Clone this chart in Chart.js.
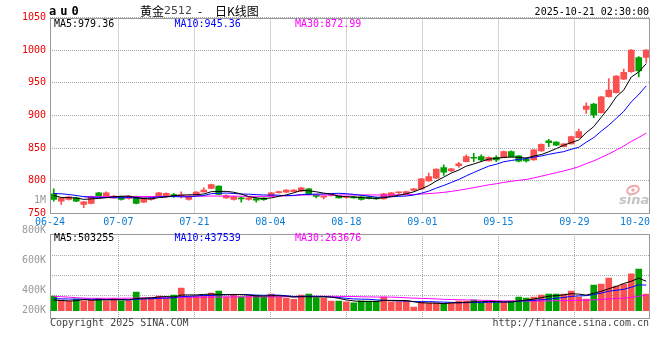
<!DOCTYPE html>
<html>
<head>
<meta charset="utf-8">
<script src="https://cdn.jsdelivr.net/npm/chart.js@4.4.0/dist/chart.umd.min.js"></script>
<style>
html,body{margin:0;padding:0;background:#fff;}
#wrap{position:relative;width:660px;height:360px;}
#wrap canvas{position:absolute;left:0;top:0;}
</style>
</head>
<body>
<div id="wrap">
  <canvas id="kline" width="660" height="360"></canvas>
  <canvas id="vol" width="660" height="360"></canvas>
</div>
<script>
// 黄金2512 日K, 06-24 .. 10-21
const dates = ['06-24','06-25','06-26','06-27','06-30','07-01','07-02','07-03','07-04','07-07',
  '07-08','07-09','07-10','07-11','07-14','07-15','07-16','07-17','07-18','07-21',
  '07-22','07-23','07-24','07-25','07-28','07-29','07-30','07-31','08-01','08-04',
  '08-05','08-06','08-07','08-08','08-11','08-12','08-13','08-14','08-15','08-18',
  '08-19','08-20','08-21','08-22','08-25','08-26','08-27','08-28','08-29','09-01',
  '09-02','09-03','09-04','09-05','09-08','09-09','09-10','09-11','09-12','09-15',
  '09-16','09-17','09-18','09-19','09-22','09-23','09-24','09-25','09-26','09-29',
  '09-30','10-09','10-10','10-13','10-14','10-15','10-16','10-17','10-20','10-21'];

const openP = [780.2,769,771.5,774,763.9,765.4,781.7,776.6,774,775.6,
  773,775.6,767.4,771.5,776.6,775.6,779.1,777,771.5,778.1,
  783.2,788.3,791.9,774,771.5,774,771.5,773,773.5,776.6,
  781.7,782.7,783.5,784.2,787.8,778.1,775,777.5,776.6,774.5,
  775.6,775.6,775.6,774,772.5,776.6,781.7,780.2,785.2,787.8,
  800,804.1,820.4,815.3,823.4,829.5,836.1,837.1,830.5,836.1,
  835.6,844.8,838.2,833.1,832,845.8,861.1,859.5,852.4,856.5,
  866.1,909.4,917.6,904.3,928.7,934.9,955.7,966.9,988.8,988.8];
const highP = [787.8,774.5,776.5,775,768.5,776.5,782.5,783.2,777.5,776.5,
  777.5,776.5,775,775,782.5,781.7,780.7,783.2,777.5,783.5,
  789.3,795.2,792.5,778.5,776.5,775.1,775,774,774.5,782.5,
  784.5,786.5,786.8,790,788.5,779,776.6,779.8,777.5,776,
  776.5,776.5,776.5,775,781,782.5,782.7,784.5,788.5,803.8,
  811.7,818.5,824.4,819,828.5,839.7,842.2,839.7,836.8,838.7,
  845.5,845.8,838.8,835.6,848,856.7,863.6,860.2,857.2,868.5,
  879.4,919.5,918.5,929.5,956.7,961,971,1000.8,990,1000.8];
const lowP = [769,763.9,770.5,768,758.8,764.5,776,776,773,770.5,
  772,764.5,766.5,770.5,776,775,774.6,774,770.5,777.5,
  782.5,787.5,778.5,773,770.5,767.4,770.5,767.4,770,776,
  781,782,783,783.5,778.5,774,772.5,776.5,773.5,773.5,
  773.5,770.5,772.5,771.5,772,776,779.1,779.5,784.5,787,
  799,803.5,808.1,814.2,820.4,829,829.5,829.5,830,829.5,
  835,836.5,829,828.5,831.5,845,852.4,853.8,851.8,856,
  865.5,903.3,896.7,903.5,928,934,955,966,959.2,981.2];
const closeP = [771.5,774,775.6,769,768,775.6,776.6,781.7,776.6,771.5,
  776.6,765.4,774,774,781.7,780.7,776.6,777.5,776.6,782.7,
  785.8,794.4,779.1,777.6,775.6,772.5,774,770.5,771,781.7,
  783.7,785.8,786,789.3,779.1,776,775.5,778.5,774,775,
  774,771.5,773,772.5,780.2,781.7,782.7,783.5,787.8,803,
  806.6,817.8,813.2,818.3,826,837.1,834.6,832.1,836.1,832.1,
  844.8,837.1,830,830.5,847.3,856,858.5,854.4,856.5,867.7,
  875.3,914.5,900.8,928.7,938.9,960.3,965.9,1000,968.4,1000];

const ma5 = [777.6,774.5,774.2,773.8,771.6,772.4,773.0,774.2,775.7,776.4,
  776.6,774.4,772.8,772.3,774.3,775.2,777.4,778.1,778.6,778.8,
  779.8,783.4,783.7,783.9,782.5,779.8,775.8,774.0,772.7,773.9,
  776.2,778.5,781.6,785.3,784.8,783.2,781.2,779.6,776.5,775.7,
  775.3,774.5,773.5,773.2,774.2,775.8,778.0,780.1,783.2,787.7,
  792.7,799.7,805.7,811.8,816.4,822.5,825.8,829.6,833.2,834.4,
  835.9,836.4,836.0,834.9,837.9,840.2,844.5,849.3,854.5,858.6,
  862.5,873.7,883.0,897.4,911.6,928.6,938.9,958.8,966.7,979.36];
const ma10 = [780.5,780.2,779.0,777.6,775.8,775.0,774.6,774.4,774.2,774.0,
  774.5,773.7,773.5,774.0,775.4,775.9,775.9,775.5,775.5,776.6,
  777.5,780.4,780.9,781.3,780.7,779.8,779.6,778.9,778.3,778.2,
  778.0,777.2,777.8,779.0,779.4,779.7,779.9,780.6,780.9,780.3,
  779.3,777.9,776.6,774.9,775.0,775.6,776.3,776.8,778.2,781.0,
  784.3,788.9,792.9,797.5,802.1,807.6,812.8,817.7,822.5,825.4,
  829.2,831.1,832.8,834.0,836.2,838.1,840.5,842.7,844.7,848.3,
  851.3,859.1,866.2,876.0,885.1,895.6,906.3,920.9,932.1,945.36];
const ma30 = [null,null,null,null,775.6,775.6,775.7,775.7,775.8,775.8,
  775.9,775.9,776.0,776.0,776.1,776.2,776.3,776.4,776.4,776.5,
  776.6,776.7,776.7,776.6,776.5,776.4,776.3,776.3,776.2,776.3,
  776.7,777.1,777.4,778.1,778.5,778.5,778.4,778.3,778.2,778.4,
  778.3,778.5,778.4,778.4,778.3,778.4,778.6,778.8,779.1,779.8,
  780.5,781.3,782.4,783.8,785.5,787.6,789.6,791.7,793.9,795.5,
  797.6,799.3,800.8,802.1,804.4,807.1,809.8,812.4,815.1,818.2,
  821.6,826.4,830.6,835.8,841.1,847.1,853.2,860.4,866.4,872.99];

const volume = [250000,182000,165000,199000,170000,182000,210000,170000,210000,170000,
  170000,318000,210000,227000,250000,210000,267000,386000,239000,250000,
  250000,301000,335000,239000,267000,239000,250000,267000,239000,284000,
  239000,210000,193000,267000,284000,222000,222000,165000,165000,153000,
  136000,170000,165000,165000,233000,153000,153000,165000,63000,148000,
  131000,136000,125000,125000,165000,165000,182000,136000,148000,148000,
  148000,165000,233000,216000,233000,267000,284000,284000,284000,335000,
  233000,199000,438000,455000,557000,421000,455000,631000,710000,284000];
const volMa5 = [182000,175000,168000,170000,193000,180000,185000,186000,188000,188000,
  186000,208000,216000,219000,235000,243000,233000,268000,270000,270000,
  278000,285000,275000,275000,278000,276000,266000,252000,252000,256000,
  256000,248000,233000,239000,239000,235000,238000,232000,212000,185000,
  168000,158000,158000,158000,174000,177000,174000,174000,153000,136000,
  132000,129000,121000,133000,136000,143000,152000,155000,159000,156000,
  152000,149000,168000,182000,199000,223000,247000,257000,270000,291000,
  284000,267000,298000,332000,376000,414000,465000,504000,555000,503255];
const volMa10 = [205000,203000,200000,198000,196000,195000,193000,192000,191000,191000,
  183000,196000,201000,204000,212000,215000,220000,242000,245000,253000,
  261000,259000,272000,273000,274000,277000,276000,264000,264000,267000,
  266000,257000,243000,246000,247000,246000,243000,233000,225000,212000,
  202000,198000,195000,185000,180000,173000,166000,166000,156000,155000,
  155000,151000,147000,143000,136000,138000,141000,138000,146000,146000,
  148000,151000,162000,171000,177000,188000,198000,213000,226000,245000,
  253000,257000,277000,301000,334000,349000,366000,401000,443000,437539];
const volMa30 = [244000,240000,232000,222000,215000,212000,212000,212000,213000,213000,
  214000,216000,218000,220000,222000,224000,226000,228000,230000,231000,
  232000,233000,234000,235000,236000,236000,237000,237000,237000,237000,
  237000,237000,238000,241000,244000,246000,246000,246000,245000,244000,
  243000,238000,236000,234000,234000,232000,228000,221000,215000,211000,
  207000,202000,195000,191000,188000,185000,183000,179000,176000,171000,
  168000,167000,168000,166000,164000,166000,168000,170000,172000,176000,
  178000,180000,186000,193000,202000,209000,216000,228000,248000,263676];

const xLabelIdx = [0,9,19,29,39,49,59,69,78];
const priceTicks = [750,800,850,900,950,1000,1050];
const volLabels = ['1M','800K','600K','400K','200K'];
const maNow = ['MA5:979.36','MA10:945.36','MA30:872.99'];
const volMaNow = ['MA5:503255','MA10:437539','MA30:263676'];

const RED = '#fa5050', GREEN = '#00a000';
const MA_COLORS = ['#000000','#0000ff','#ff00ff'];
const GRID = '#aaaaaa', FRAME = '#999999';
const MONO = '"DejaVu Sans Mono", "Liberation Mono", monospace';

const candleCol = closeP.map((c,i)=> c>=openP[i] ? RED : GREEN);
const pts = arr => arr.map((v,i)=>({x:i, y:v}));

// sina spreads its date grid a little wider than the candle slots
const GRID_STRETCH = 76/75;
function dateTicks(scale){
  scale.ticks = xLabelIdx.map((d,k)=>{
    let v = d*GRID_STRETCH - 0.5;
    if(k===0) v = scale.min;
    if(k===xLabelIdx.length-1) v = scale.max - 2;
    return {value:v};
  });
}
const gridColor = c => (c.index===0 || c.index===xLabelIdx.length-1) ? 'rgba(0,0,0,0)' : GRID;

function lineSet(label, data, color){
  return {type:'line', label, data:pts(data), borderColor:color, borderWidth:1,
    pointRadius:0, tension:0, spanGaps:false, order:0};
}

function frame(ctx, a){
  ctx.strokeStyle = FRAME; ctx.lineWidth = 1;
  ctx.strokeRect(Math.round(a.left)+0.5, Math.round(a.top)+0.5,
    Math.round(a.right-a.left)-1, Math.round(a.bottom-a.top)-1);
}

const mainText = {
  id:'mainText',
  afterDraw(chart){
    const {ctx, chartArea:a} = chart;
    ctx.save();
    frame(ctx, a);
    ctx.textBaseline = 'middle';
    ctx.font = '10px ' + MONO;
    maNow.forEach((t,k)=>{ ctx.fillStyle = MA_COLORS[k]; ctx.fillText(t, a.left+4+120.5*k, a.top+6.5); });
    // header
    ctx.fillStyle = '#000';
    ctx.textAlign = 'right';
    ctx.fillText('2025-10-21 02:30:00', 649, 12);
    ctx.textAlign = 'left';
    ctx.font = 'bold 12px ' + MONO;
    ctx.letterSpacing = '4px';
    ctx.fillText('au0', 49, 12);
    ctx.letterSpacing = '0px';
    ctx.font = '12px "Noto Sans CJK SC"';
    ctx.fillText('黄金', 140, 11);
    ctx.fillStyle = '#444';
    ctx.font = '11px "DejaVu Sans"';
    ctx.fillText('2512', 164, 11);
    ctx.fillStyle = '#000';
    ctx.font = '12px "Noto Sans CJK SC"';
    ctx.fillText('-', 198, 11);
    ctx.fillText('日K线图', 215, 11);
    // watermark
    ctx.strokeStyle = '#f2a8a8'; ctx.lineWidth = 2;
    ctx.beginPath(); ctx.ellipse(633, 190, 6, 4, -0.3, 0, Math.PI*2); ctx.stroke();
    ctx.fillStyle = '#f2a8a8';
    ctx.beginPath(); ctx.arc(633, 190, 1.8, 0, Math.PI*2); ctx.fill();
    ctx.fillStyle = '#c4c4c4';
    ctx.font = 'italic bold 13px "DejaVu Sans"';
    ctx.fillText('sina', 619, 201);
    ctx.restore();
  }
};

const volText = {
  id:'volText',
  afterDraw(chart){
    const {ctx, chartArea:a} = chart;
    ctx.save();
    frame(ctx, a);
    ctx.textBaseline = 'middle';
    ctx.font = '10px ' + MONO;
    volMaNow.forEach((t,k)=>{ ctx.fillStyle = MA_COLORS[k]; ctx.fillText(t, a.left+4+120.5*k, a.top+4); });
    ctx.fillStyle = '#999';
    ctx.textAlign = 'right';
    volLabels.forEach((t,k)=>{
      const y = Math.min(a.top - 33.5 + 30*k, a.bottom - 8);
      ctx.fillText(t, 46, y);
    });
    ctx.fillStyle = '#444';
    ctx.fillText('http://finance.sina.com.cn', 649, a.bottom + 5);
    ctx.textAlign = 'left';
    ctx.fillText('Copyright 2025 SINA.COM', 50, a.bottom + 5);
    ctx.restore();
  }
};

// price panel
new Chart(document.getElementById('kline'), {
  type:'bar',
  data:{datasets:[
    lineSet('MA5', ma5, MA_COLORS[0]),
    lineSet('MA10', ma10, MA_COLORS[1]),
    lineSet('MA30', ma30, MA_COLORS[2]),
    {label:'body', data:openP.map((o,i)=>({x:i, y:[o, closeP[i]]})), backgroundColor:candleCol,
      barThickness:6, grouped:false, minBarLength:1, borderWidth:0, order:1},
    {label:'wick', data:lowP.map((l,i)=>({x:i, y:[l, highP[i]]})), backgroundColor:candleCol,
      barThickness:1, grouped:false, borderWidth:0, order:2}
  ]},
  options:{
    responsive:false, animation:false,
    layout:{padding:{top:17.5, right:10, bottom:128.5, left:0}},
    plugins:{legend:{display:false}, tooltip:{enabled:false}},
    scales:{
      x:{type:'linear', min:-0.5, max:79.5, offset:false,
        afterBuildTicks:dateTicks,
        afterFit:s=>{ s.height = 18; },
        ticks:{callback:(v,k)=>dates[xLabelIdx[k]], color:'#0c7cd5', font:{family:MONO, size:10},
          padding:3, maxRotation:0, autoSkip:false},
        grid:{color:gridColor, drawTicks:false, offset:false, lineWidth:1},
        border:{display:false, dash:[1,1]}},
      y:{type:'linear', min:750, max:1050,
        afterBuildTicks:s=>{ s.ticks = priceTicks.map(v=>({value:v})); },
        afterFit:s=>{ s.width = 50; },
        ticks:{callback:v=>String(v), color:'#ee0000', font:{family:MONO, size:10}, padding:4},
        grid:{color:GRID, drawTicks:false, lineWidth:1},
        border:{display:false, dash:[1,1]}}
    }
  },
  plugins:[mainText]
});

// volume panel
const VOL_PANEL_H = 84.7;
new Chart(document.getElementById('vol'), {
  type:'bar',
  data:{datasets:[
    lineSet('MA5', volMa5, MA_COLORS[0]),
    lineSet('MA10', volMa10, MA_COLORS[1]),
    lineSet('MA30', volMa30, MA_COLORS[2]),
    {label:'vol', data:pts(volume), backgroundColor:candleCol, barThickness:6, grouped:false,
      borderWidth:0, order:1}
  ]},
  options:{
    responsive:false, animation:false,
    layout:{padding:{top:234, right:10, bottom:41.3, left:0}},
    plugins:{legend:{display:false}, tooltip:{enabled:false}},
    scales:{
      x:{type:'linear', min:-0.5, max:79.5, offset:false,
        afterBuildTicks:dateTicks,
        afterFit:s=>{ s.height = 0; },
        ticks:{display:false},
        grid:{color:gridColor, drawTicks:false, offset:false, lineWidth:1},
        border:{display:false, dash:[1,1]}},
      y:{type:'linear', min:-136000, max:1310000,
        afterBuildTicks:s=>{
          const perPx = (s.max - s.min)/VOL_PANEL_H;
          s.ticks = [21.7, 41.7, 61.7].map(px=>({value: s.max - px*perPx}));
        },
        afterFit:s=>{ s.width = 50; },
        ticks:{display:false},
        grid:{color:GRID, drawTicks:false, lineWidth:1},
        border:{display:false, dash:[1,1]}}
    }
  },
  plugins:[volText]
});
</script>
</body>
</html>
